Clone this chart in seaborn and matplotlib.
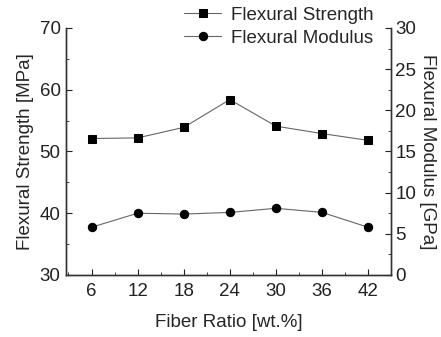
import matplotlib
matplotlib.use("Agg")
import matplotlib.pyplot as plt
from matplotlib.ticker import MultipleLocator
import pandas as pd
import seaborn as sns

fiber_ratio = [6, 12, 18, 24, 30, 36, 42]
flexural_strength = [52.1, 52.2, 53.9, 58.4, 54.1, 52.9, 51.8]
flexural_modulus = [5.8, 7.5, 7.4, 7.6, 8.1, 7.6, 5.8]

df = pd.DataFrame({
    "ratio": fiber_ratio,
    "strength": flexural_strength,
    "modulus": flexural_modulus,
})

sns.set_style("ticks")
plt.rcParams["font.family"] = ["Liberation Sans", "DejaVu Sans"]
plt.rcParams["xtick.direction"] = "in"
plt.rcParams["ytick.direction"] = "in"

fig = plt.figure(figsize=(4.41, 3.37), dpi=100)
ax = fig.add_axes([0.150, 0.184, 0.737, 0.733])
ax2 = ax.twinx()

line_kw = dict(color="#666666", linewidth=0.8, markersize=6,
               markerfacecolor="black", markeredgecolor="black")
sns.lineplot(data=df, x="ratio", y="strength", ax=ax, marker="s",
             label="Flexural Strength", legend=False, **line_kw)
sns.lineplot(data=df, x="ratio", y="modulus", ax=ax2, marker="o",
             label="Flexural Modulus", legend=False, **line_kw)

ax.set_xlim(2.7, 45)
ax.set_ylim(30, 70)
ax2.set_ylim(0, 30)
ax.set_xticks(fiber_ratio)
ax.xaxis.set_minor_locator(MultipleLocator(3))
ax.yaxis.set_minor_locator(MultipleLocator(5))
ax2.yaxis.set_major_locator(MultipleLocator(5))
ax2.yaxis.set_minor_locator(MultipleLocator(2.5))

for a in (ax, ax2):
    a.spines["top"].set_visible(False)
    for s in a.spines.values():
        s.set_linewidth(1.0)
        s.set_color("#333333")
    a.tick_params(which="major", length=4, width=0.8, labelsize=13.5, colors="#222222")
    a.tick_params(which="minor", length=2, width=0.6)
ax.tick_params(axis="x", pad=6)
ax.tick_params(axis="y", pad=4)
ax2.tick_params(axis="y", pad=3)

ax.set_xlabel("Fiber Ratio [wt.%]", fontsize=13.5, labelpad=10)
ax.set_ylabel("Flexural Strength [MPa]", fontsize=13.5, labelpad=4)
ax2.set_ylabel("Flexural Modulus [GPa]", fontsize=13.5, rotation=270, labelpad=14)

h1, l1 = ax.get_legend_handles_labels()
h2, l2 = ax2.get_legend_handles_labels()
fig.legend(h1 + h2, l1 + l2, loc="upper right", bbox_to_anchor=(0.885, 1.03),
           frameon=False, fontsize=13.5, handlelength=2.0, handletextpad=0.5,
           labelspacing=0.3)

fig.savefig("out.png", dpi=100)
